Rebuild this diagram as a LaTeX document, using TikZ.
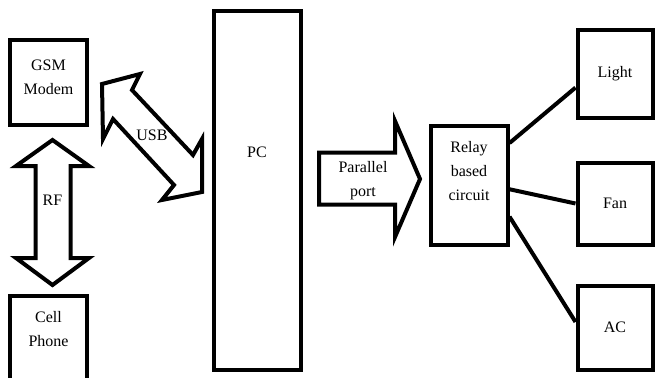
\documentclass[tikz,border=0pt]{standalone}
\usepackage{fontspec}
\setmainfont{Liberation Serif}
\begin{document}
\begin{tikzpicture}[x=1pt,y=-1pt,
    blok/.style={draw,line width=4pt,inner sep=0pt},
    tekst/.style={align=center,inner sep=0pt,font=\fontsize{16}{24}\selectfont},
    pijl/.style={draw,line width=4pt,line join=miter,fill=white},
    lijn/.style={line width=4pt}]
          \clip (0,0) rectangle (655,377);
          \fill[white] (0,0) rectangle (655,377);

          \node[blok,minimum width=77.5,minimum height=84.5] (gsm) at (48.25,82.75) {};
          \node[blok,minimum width=77.0,minimum height=104.5] (cell) at (48.50,347.75) {};
          \node[blok,minimum width=87.0,minimum height=358.0] (pc) at (257.00,190.50) {};
          \node[blok,minimum width=77.0,minimum height=119.0] (relay) at (469.00,185.00) {};
          \node[blok,tekst,minimum width=75.0,minimum height=87.0] (light) at (615.00,74.00) {Light};
          \node[blok,tekst,minimum width=75.0,minimum height=82.0] (fan) at (615.00,203.50) {Fan};
          \node[blok,tekst,minimum width=75.0,minimum height=84.0] (ac) at (615.00,327.50) {AC};

          \node[tekst] (gsmtekst) at (48.50,77.5) {GSM\\Modem};
          \node[tekst] (celltekst) at (48.50,329.5) {Cell\\Phone};
          \node[tekst] (pctekst) at (257.00,152.0) {PC};
          \node[tekst] (relaytekst) at (469.00,171.0) {Relay\\based\\circuit};

          \draw[pijl] (52.5,140) -- (89,166) -- (70.5,166) -- (70.5,258) -- (89,258)
            -- (52.5,285) -- (16,258) -- (35.5,258) -- (35.5,166) -- (16,166) -- cycle;
          \draw[pijl] (102,84) -- (140,74) -- (132,90) -- (193,155) -- (202,139)
            -- (202,192) -- (162,200) -- (174,185) -- (113,119) -- (103,139) -- cycle;
          \draw[pijl] (319,152.5) -- (395,152.5) -- (395,121) -- (420,179)
            -- (395,237) -- (395,204.5) -- (319,204.5) -- cycle;

          \node[tekst] (rf) at (52.50,200.0) {RF};
          \node[tekst] (usb) at (152.00,135.0) {USB};
          \node[tekst] (parallel) at (363.00,181.0) {Parallel\\port};

          \draw[lijn] (relay.46) -- (light.199);
          \draw[lijn] (relay.-6) -- (fan.180);
          \draw[lijn] (relay.-38) -- (ac.172);

      \end{tikzpicture}
\end{document}
